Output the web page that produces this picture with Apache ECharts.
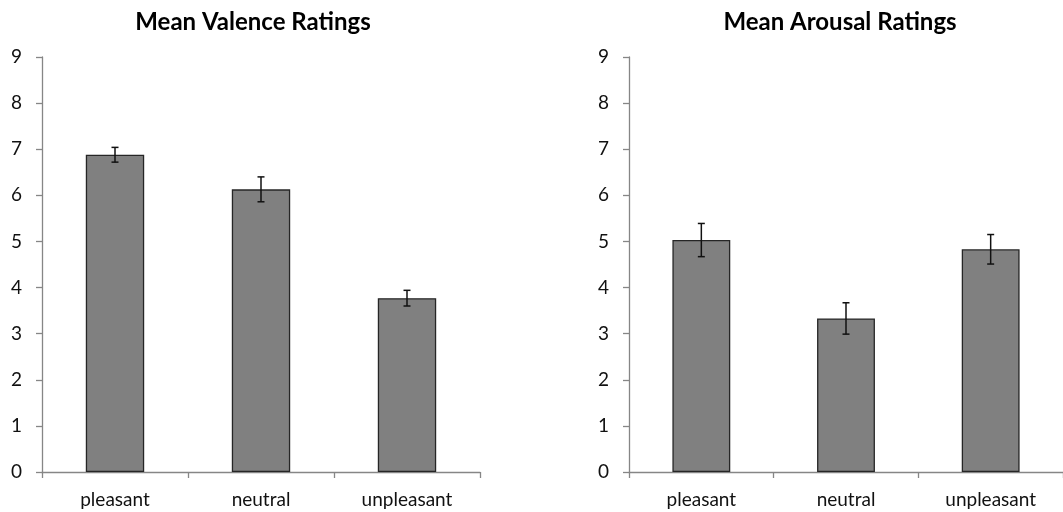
<!DOCTYPE html>
<html>
<head>
<meta charset="utf-8">
<script src="https://cdn.jsdelivr.net/npm/echarts@6/dist/echarts.min.js"></script>
<style>
  html, body { margin: 0; padding: 0; background: #fff; }
  #chart { width: 1063px; height: 512px; }
</style>
</head>
<body>
<div id="chart"></div>
<script>
// Rating categories and tick values
const categories = ['pleasant', 'neutral', 'unpleasant'];
const yTicks = [0, 1, 2, 3, 4, 5, 6, 7, 8, 9];

// Mean valence ratings and their standard errors
const valenceMeans = [6.88, 6.13, 3.77];
const valenceErrors = [0.16, 0.27, 0.17];

// Mean arousal ratings and their standard errors
const arousalMeans = [5.03, 3.33, 4.83];
const arousalErrors = [0.36, 0.34, 0.32];

const FONT = 'Lato, "Open Sans", sans-serif';
const AXIS_COLOR = '#868686';
const TEXT_COLOR = '#111';

function errorBarData(means, errors) {
  return means.map((m, i) => [i, m - errors[i], m + errors[i]]);
}

function renderErrorBar(params, api) {
  const x = api.value(0);
  const lo = api.coord([x, api.value(1)]);
  const hi = api.coord([x, api.value(2)]);
  const cap = 3.5;
  const style = { stroke: '#111', lineWidth: 1.5 };
  return {
    type: 'group',
    children: [
      { type: 'line', shape: { x1: hi[0], y1: hi[1], x2: lo[0], y2: lo[1] }, style },
      { type: 'line', shape: { x1: hi[0] - cap, y1: hi[1], x2: hi[0] + cap, y2: hi[1] }, style },
      { type: 'line', shape: { x1: lo[0] - cap, y1: lo[1], x2: lo[0] + cap, y2: lo[1] }, style }
    ]
  };
}

function xAxis(gridIndex) {
  return {
    type: 'category',
    gridIndex,
    data: categories,
    axisLine: { lineStyle: { color: AXIS_COLOR, width: 1.3 } },
    axisTick: { show: true, alignWithLabel: false, length: 6, lineStyle: { color: AXIS_COLOR, width: 1.3 } },
    axisLabel: { color: TEXT_COLOR, fontFamily: FONT, fontSize: 19, margin: 18 }
  };
}

function yAxis(gridIndex) {
  return {
    type: 'value',
    gridIndex,
    min: yTicks[0],
    max: yTicks[yTicks.length - 1],
    interval: 1,
    splitLine: { show: false },
    axisLine: { show: true, lineStyle: { color: AXIS_COLOR, width: 1.3 } },
    axisTick: { show: true, length: 6, lineStyle: { color: AXIS_COLOR, width: 1.3 } },
    axisLabel: { color: TEXT_COLOR, fontFamily: FONT, fontSize: 19, margin: 20 }
  };
}

const barStyle = { color: '#808080', borderColor: '#262626', borderWidth: 1.3 };

const titleStyle = { fontFamily: FONT, fontWeight: 'bold', fontSize: 24, color: '#000' };

const chart = echarts.init(document.getElementById('chart'), null, { renderer: 'canvas' });
chart.setOption({
  animation: false,
  backgroundColor: '#fff',
  title: [
    { text: 'Mean Valence Ratings', left: 248, top: 5, textAlign: 'center', textStyle: titleStyle },
    { text: 'Mean Arousal Ratings', left: 835, top: 5, textAlign: 'center', textStyle: titleStyle }
  ],
  grid: [
    { left: 42, right: 583, top: 57, bottom: 40 },
    { left: 629, right: -3, top: 57, bottom: 40 }
  ],
  xAxis: [xAxis(0), xAxis(1)],
  yAxis: [yAxis(0), yAxis(1)],
  series: [
    { type: 'bar', xAxisIndex: 0, yAxisIndex: 0, data: valenceMeans, barWidth: '40%', itemStyle: barStyle },
    { type: 'custom', xAxisIndex: 0, yAxisIndex: 0, data: errorBarData(valenceMeans, valenceErrors),
      renderItem: renderErrorBar, encode: { x: 0, y: [1, 2] }, z: 3 },
    { type: 'bar', xAxisIndex: 1, yAxisIndex: 1, data: arousalMeans, barWidth: '40%', itemStyle: barStyle },
    { type: 'custom', xAxisIndex: 1, yAxisIndex: 1, data: errorBarData(arousalMeans, arousalErrors),
      renderItem: renderErrorBar, encode: { x: 0, y: [1, 2] }, z: 3 }
  ]
});
</script>
</body>
</html>
